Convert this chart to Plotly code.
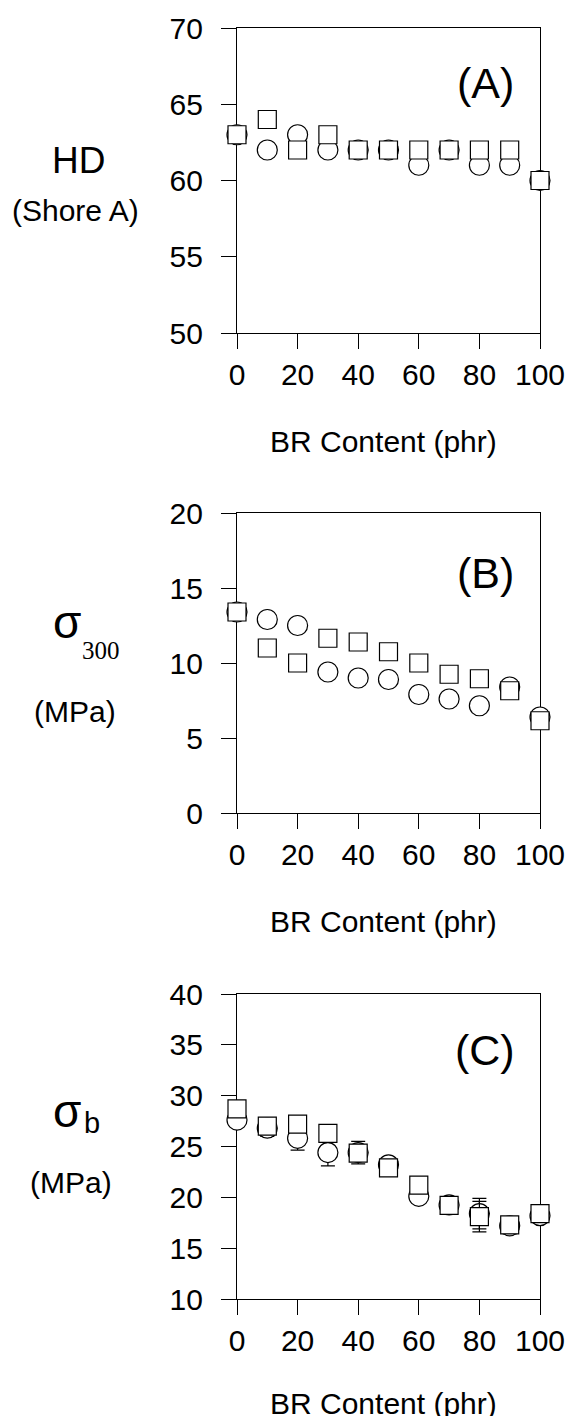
import plotly.graph_objects as go

# ---------------- data ----------------
br_content = [0, 10, 20, 30, 40, 50, 60, 70, 80, 90, 100]

hd_circle = [63, 62, 63, 62, 62, 62, 61, 62, 61, 61, 60]
hd_square = [63, 64, 62, 63, 62, 62, 62, 62, 62, 62, 60]

s300_circle = [13.4, 12.9, 12.5, 9.4, 9.0, 8.9, 7.9, 7.6, 7.15, 8.4, 6.4]
s300_square = [13.4, 11.0, 10.0, 11.65, 11.4, 10.75, 10.0, 9.25, 8.95, 8.15, 6.15]

sb_circle = [27.6, 26.8, 25.8, 24.4, 24.4, 23.2, 20.1, 19.25, 18.4, 17.2, 18.2]
sb_circle_err = [0.5, 0.8, 1.15, 1.3, 1.1, 0.4, 0.4, 0.3, 1.5, 0.8, 0.3]
sb_square = [28.7, 27.0, 27.2, 26.3, 24.35, 22.9, 21.2, 19.2, 18.1, 17.3, 18.4]
sb_square_err = [0.4, 0.6, 0.5, 0.4, 0.7, 0.4, 0.4, 0.3, 1.5, 0.8, 0.3]

x_ticks = [0, 20, 40, 60, 80, 100]
ya_ticks = [50, 55, 60, 65, 70]
yb_ticks = [0, 5, 10, 15, 20]
yc_ticks = [10, 15, 20, 25, 30, 35, 40]

# ---------------- layout geometry (pixels) ----------------
W, H = 567, 1416
L, R, T, B = 237, 27, 28, 117
PW, PH = W - L - R, H - T - B
panels_px = [(28, 333), (513, 813), (994, 1299)]  # (top, bottom)


def py(p):
    return (H - B - p) / PH


def px(p):
    return (p - L) / PW


FONT = "Liberation Sans"
fig = go.Figure()

series = [
    (hd_circle, hd_square, None, None),
    (s300_circle, s300_square, None, None),
    (sb_circle, sb_square, sb_circle_err, sb_square_err),
]

for i, (yc, ys, ec, es) in enumerate(series):
    n = "" if i == 0 else str(i + 1)
    xa, ya = "x" + n, "y" + n
    fig.add_trace(go.Scatter(
        x=br_content, y=yc, mode="markers", xaxis=xa, yaxis=ya,
        marker=dict(symbol="circle", size=20, color="white",
                    line=dict(color="black", width=1.2)),
        error_y=(dict(type="data", array=ec, visible=True, color="black",
                      thickness=1.2, width=7) if ec else None),
        cliponaxis=False, showlegend=False))
    fig.add_trace(go.Scatter(
        x=br_content, y=ys, mode="markers", xaxis=xa, yaxis=ya,
        marker=dict(symbol="square", size=18, color="white",
                    line=dict(color="black", width=1.2)),
        error_y=(dict(type="data", array=es, visible=True, color="black",
                      thickness=1.2, width=7) if es else None),
        cliponaxis=False, showlegend=False))

yranges = [(50, 70), (0, 20), (10, 40)]
yticks = [ya_ticks, yb_ticks, yc_ticks]

axis_common = dict(showline=True, linecolor="black", linewidth=1.2,
                   mirror=True, ticks="outside", ticklen=15, tickwidth=1.2,
                   tickcolor="black", showgrid=False, zeroline=False,
                   layer="below traces", automargin=False,
                   tickfont=dict(family=FONT, size=30, color="black"))

layout_axes = {}
for i, ((top, bot), yr, yt) in enumerate(zip(panels_px, yranges, yticks)):
    n = "" if i == 0 else str(i + 1)
    layout_axes["xaxis" + n] = dict(
        axis_common, range=[0, 100], tickvals=x_ticks, domain=[0, 1],
        anchor="y" + n, ticklabelstandoff=0)
    layout_axes["yaxis" + n] = dict(
        axis_common, range=list(yr), tickvals=yt,
        domain=[py(bot), py(top)], anchor="x" + n, ticklabelstandoff=12)

annotations = []


def ann(text, x, y, size, family=FONT):
    annotations.append(dict(text=text, x=px(x), y=py(y), xref="paper",
                            yref="paper", showarrow=False, xanchor="center",
                            yanchor="middle",
                            font=dict(family=family, size=size, color="black")))


# panel letters
ann("(A)", 485, 83, 43)
ann("(B)", 485, 573, 43)
ann("(C)", 485, 1050, 43)

# x-axis titles
for k, (top, bot) in enumerate(panels_px):
    ann("BR Content (phr)", 383, bot + (104 if k == 2 else 108), 30)

# y-axis labels
ann("HD", 78, 160, 37)
ann("(Shore A)", 75, 210, 30)
ann("σ", 67, 622, 46)
ann("300", 101, 651, 25, "Liberation Serif")
ann("(MPa)", 75, 712, 30)
ann("σ", 67, 1111, 46)
ann("b", 92, 1123, 29)
ann("(MPa)", 71, 1182, 30)

fig.update_layout(
    width=W, height=H,
    margin=dict(l=L, r=R, t=T, b=B, autoexpand=False),
    paper_bgcolor="white", plot_bgcolor="white",
    annotations=annotations,
    **layout_axes,
)

fig.write_html("out.html")
